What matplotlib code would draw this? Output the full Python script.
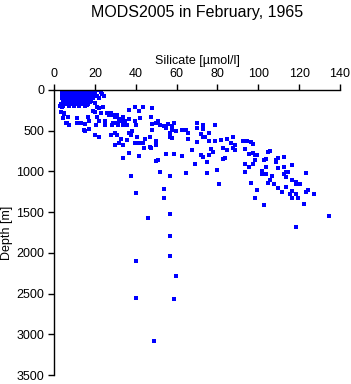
import matplotlib
matplotlib.use("Agg")
import matplotlib.pyplot as plt

plt.rcParams['font.family'] = ['Liberation Sans', 'DejaVu Sans']

# near-surface samples (standard depths), silicate per depth level
surface_depths = [0, 10, 20, 30, 50, 75, 100, 125, 150, 175, 200]
surface_silicate = [
    [4.0, 5.2, 6.5, 7.8, 9.0, 10.3, 11.6, 12.8, 14.1, 15.5, 16.8, 18.9, 21.5],
    [3.8, 5.0, 6.3, 7.5, 8.8, 10.0, 11.3, 12.6, 13.9, 15.1, 16.4],
    [4.1, 5.4, 6.6, 7.9, 9.2, 10.5, 11.8, 13.0, 14.3, 15.6, 17.0, 20.3],
    [4.3, 5.6, 6.9, 8.2, 9.5, 10.7, 12.0, 13.4, 14.7, 16.1, 18.4, 22.8],
    [3.9, 5.1, 6.4, 7.7, 9.0, 10.2, 11.5, 12.9, 14.2, 15.5, 17.2, 19.8, 23.6],
    [4.5, 5.8, 7.0, 8.3, 9.6, 10.9, 12.2, 13.5, 14.8, 16.4, 18.0, 21.0, 24.5],
    [4.0, 5.3, 6.6, 7.9, 9.2, 10.5, 11.8, 13.1, 14.6, 16.9, 19.3, 22.1],
    [4.6, 5.9, 7.2, 8.5, 9.8, 11.1, 12.4, 13.7, 15.2, 18.2],
    [4.2, 5.5, 6.8, 8.1, 9.4, 10.8, 12.1, 13.6, 15.9, 17.5],
    [3.6, 5.2, 7.4, 8.8, 10.2, 11.9, 13.4, 16.4],
    [2.9, 4.4, 7.1, 9.6, 12.3, 15.0],
]

# deeper samples
silicate = [
    3.9, 4.9, 4.3, 6.2, 7.2, 3.4, 5.0, 6.7, 5.9, 11.1, 11.4, 13.4, 15.3, 15.3,
    17.3, 17.3, 14.8, 20.2, 22.2, 21.2, 22.2, 25.1, 25.1, 23.2, 24.1, 21.2,
    22.2, 20.2, 18.3, 16.0, 19.2, 20.1, 16.8, 20.4, 26.1, 27.1, 28.0, 29.0,
    30.0, 31.0, 32.0, 31.0, 29.0, 32.9, 33.9, 28.5, 31.5, 33.9, 28.0, 30.0,
    31.0, 30.0, 32.0, 33.9, 32.9, 33.9, 36.9, 35.9, 36.9, 37.8, 35.9, 36.9,
    34.9, 39.8, 36.9, 39.8, 41.8, 43.7, 42.1, 40.1, 38.2, 40.8, 39.8, 41.8,
    43.7, 44.7, 47.0, 47.0, 49.9, 44.1, 41.5, 37.8, 40.1,
    48.1, 47.3, 48.1, 48.1, 47.3, 50.1, 50.1, 51.1, 52.0, 54.0, 55.0, 56.0,
    57.9, 58.9, 56.9, 56.9, 57.9, 57.9, 59.9, 62.8, 64.8, 65.7, 65.7, 69.9,
    72.8, 69.9, 72.8, 71.8, 75.7, 72.8, 74.1, 79.0, 69.9, 75.7, 79.0, 81.9,
    84.8, 87.8, 86.8, 88.7, 82.9, 84.8, 87.8, 88.7, 83.9, 82.9, 79.9, 80.9,
    77.0, 78.0, 67.7, 72.1, 73.1, 75.7, 75.0, 68.9, 64.8, 74.7, 62.8, 58.9,
    55.0, 51.1, 50.1, 52.0, 56.9, 54.0, 54.0,
    92.7, 94.6, 96.6, 97.6, 93.6, 95.6, 97.6, 98.5, 99.5, 98.5, 93.6, 95.6,
    97.6, 93.6, 96.6, 99.5, 98.5, 102.8, 103.8, 102.8, 104.9, 105.9, 103.8,
    101.8, 101.8, 103.8, 106.7, 105.9, 104.9, 107.8, 109.8, 111.8, 113.7,
    115.7, 116.6, 118.6, 119.6, 122.5, 123.5, 124.5, 127.4, 116.6, 116.6,
    118.6, 118.6, 120.6, 113.7, 114.7, 112.7, 113.7, 112.7, 109.8, 109.8,
    108.8, 108.8, 112.7, 116.6, 123.5, 134.6, 118.6,
    46.2, 56.9, 56.9, 56.9, 40.1, 59.9, 40.1, 58.9, 49.1,
]
depth = [
    205, 286, 348, 409, 434, 266, 295, 335, 401, 348, 409, 409, 421, 504,
    385, 483, 491, 557, 574, 335, 385, 385, 434, 286, 213, 205,
    225, 163, 131, 184, 254, 266, 335, 430, 286, 311, 286, 311,
    335, 311, 360, 409, 409, 385, 335, 430, 430, 430, 549, 532,
    557, 672, 655, 672, 606, 839, 778, 614, 532, 557, 434, 360,
    385, 385, 246, 213, 254, 213, 348, 426, 507, 581, 655, 655,
    647, 598, 704, 574, 623, 709, 807, 1057, 1269,
    217, 328, 421, 495, 709, 676, 409, 381, 434, 446, 471, 421,
    446, 409, 532, 581, 593, 495, 507, 495, 495, 532, 606, 409,
    434, 471, 483, 544, 532, 581, 574, 434, 643, 630, 630, 618,
    606, 581, 655, 679, 716, 741, 716, 741, 839, 851, 986, 1158,
    729, 765, 741, 802, 827, 802, 888, 913, 1016, 1023, 814, 790,
    790, 864, 876, 1011, 1060, 1220, 1330,
    630, 630, 643, 667, 729, 783, 778, 802, 802, 864, 905, 950,
    913, 1004, 1139, 1229, 1330, 1416, 851, 864, 765, 753, 950,
    999, 1036, 1036, 1060, 1109, 1146, 1158, 1208, 1253, 1195,
    1274, 1327, 1274, 1327, 1400, 1253, 1229, 1278, 1244, 1106,
    1134, 1158, 1158, 1011, 1011, 1036, 1069, 950, 962, 839,
    864, 888, 827, 925, 1023, 1552, 1687,
    1576, 1527, 1797, 2043, 2105, 2289, 2559, 2571, 3087,
]

xticks = [0, 20, 40, 60, 80, 100, 120, 140]
yticks = [0, 500, 1000, 1500, 2000, 2500, 3000, 3500]

fig = plt.figure(figsize=(3.51, 3.84), dpi=100)
ax = fig.add_axes([54 / 351, 1 - 375 / 384, 286 / 351, 285 / 384])

for d, row in zip(surface_depths, surface_silicate):
    ax.plot(row, [d] * len(row), 's', color='#0000ff', markersize=2.5,
            markeredgewidth=0, linestyle='none')
ax.plot(silicate, depth, 's', color='#0000ff', markersize=2.5,
        markeredgewidth=0, linestyle='none')

ax.set_xlim(0, 140)
ax.set_ylim(3500, 0)
ax.set_xticks(xticks)
ax.set_yticks(yticks)

ax.xaxis.tick_top()
ax.xaxis.set_label_position('top')
for side in ['right', 'bottom']:
    ax.spines[side].set_visible(False)
for side in ['left', 'top']:
    ax.spines[side].set_linewidth(1)
ax.tick_params(axis='both', direction='out', length=4, width=1,
               labelsize=9, color='black')
ax.tick_params(axis='x', pad=3)
ax.tick_params(axis='y', pad=3)

ax.set_xlabel('Silicate [\u00b5mol/l]', fontsize=9, labelpad=3)
ax.set_ylabel('Depth [m]', fontsize=9, labelpad=2)

fig.text(197 / 351, 1 - 12 / 384, 'MODS2005 in February, 1965',
         ha='center', va='center', fontsize=11.5)

fig.savefig('out.png', dpi=100)
